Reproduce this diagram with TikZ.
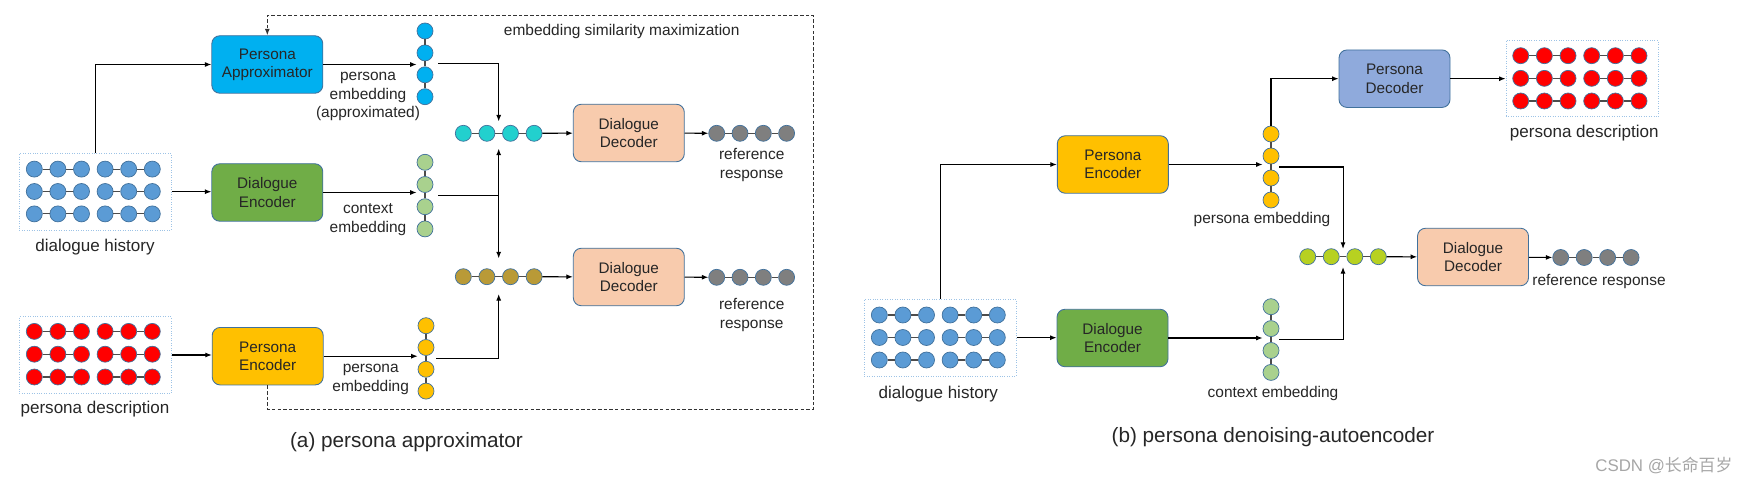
\documentclass[tikz,border=0pt]{standalone}
\usepackage{fontspec}
\setmainfont{Liberation Sans}
\newfontfamily\cjkfont{Noto Sans CJK SC}
\usetikzlibrary{positioning,calc,arrows.meta}

\definecolor{edgeblue}{HTML}{41719C}
\definecolor{gridline}{HTML}{9DC3E6}
\definecolor{cyanbox}{HTML}{00B0F0}
\definecolor{greenbox}{HTML}{70AD47}
\definecolor{yellowbox}{HTML}{FFC000}
\definecolor{peachbox}{HTML}{F8CBAD}
\definecolor{bluebox}{HTML}{8FAADC}
\definecolor{histblue}{HTML}{5B9BD5}
\definecolor{descred}{HTML}{FF0000}
\definecolor{ctxgreen}{HTML}{A9D18E}
\definecolor{mixteal}{HTML}{22D0CE}
\definecolor{mixolive}{HTML}{B99A37}
\definecolor{mixlime}{HTML}{B7D121}
\definecolor{respgrey}{HTML}{7F7F7F}

\tikzset{
    block/.style={draw=edgeblue, line width=0.5pt, rounded corners=1.6mm,
        minimum width=22.2mm, minimum height=11.5mm, align=center,
        font=\fontsize{8.7}{10.4}\selectfont, text=black!85},
    bead/.style={circle, draw=edgeblue, line width=0.4pt, minimum size=3.2mm, inner sep=0pt},
    link/.style={draw=black!70, line width=0.6pt},
    arr/.style={draw, line width=0.6pt, -{Latex[length=1.3mm,width=1mm]}},
    simloop/.style={draw=black!80, dashed, dash pattern=on 2pt off 1.2pt, line width=0.6pt,
        -{Latex[length=1.3mm,width=1mm]}},
    gridbox/.style={draw=gridline, densely dotted, line width=0.4pt,
        minimum width=30.4mm, minimum height=15.3mm, inner sep=0pt},
    lbl/.style={align=center, font=\fontsize{8.8}{10.6}\selectfont, text=black!85, inner sep=0pt},
    biglbl/.style={font=\fontsize{9.7}{11.6}\selectfont, text=black!85, inner sep=0pt},
    capt/.style={font=\fontsize{11.8}{14}\selectfont, text=black!85, inner sep=0pt},
}

\begin{document}
\begin{tikzpicture}[x=0.2mm, y=-0.2mm]
    \useasboundingbox (0,0) rectangle (1763,483);

    % ---------------- (a) persona approximator ----------------

    % dialogue history and persona description
    \node[gridbox] (hista) at (95.3,191.7) {};
    \node[gridbox] (desca) at (95.3,355) {};
    \foreach \r in {1,2,3} {
        \foreach \c in {1,...,6} {
            \node[bead, fill=histblue] (ha-\r-\c) at ({34.3+23.6*(\c-1)}, {169.1+22.4*(\r-1)}) {};
            \node[bead, fill=descred] (da-\r-\c) at ({34.3+23.6*(\c-1)}, {331.4+22.8*(\r-1)}) {};
        }
        \foreach \a/\b in {1/2,2/3,4/5,5/6} {
            \draw[link] (ha-\r-\a) -- (ha-\r-\b);
            \draw[link] (da-\r-\a) -- (da-\r-\b);
        }
    }
    \node[biglbl] (histalbl) at (95,247) {dialogue history};
    \node[biglbl] (descalbl) at (95,409.3) {persona description};

    % encoders
    \node[block, fill=cyanbox] (appr) at (267.3,64.5) {Persona\\Approximator};
    \node[block, fill=greenbox] (enca) at (267.3,192.5) {Dialogue\\Encoder};
    \node[block, fill=yellowbox] (encpa) at (267.7,356.2) {Persona\\Encoder};

    % embeddings
    \foreach \i in {1,...,4} {
        \node[bead, fill=cyanbox] (pa-\i) at (425, {31+21.9*(\i-1)}) {};
        \node[bead, fill=ctxgreen] (ca-\i) at (425, {162.3+22.2*(\i-1)}) {};
        \node[bead, fill=yellowbox] (ya-\i) at (426, {325.7+21.8*(\i-1)}) {};
    }
    \foreach \i/\j in {1/2,2/3,3/4} {
        \draw[link] (pa-\i) -- (pa-\j);
        \draw[link] (ca-\i) -- (ca-\j);
        \draw[link] (ya-\i) -- (ya-\j);
    }
    \node[lbl] (palbl) at (368,96.5) {persona\\embedding\\(approximated)};
    \node[lbl] (calbl) at (368,219.5) {context\\embedding};
    \node[lbl] (yalbl) at (370.7,379.7) {persona\\embedding};

    % merged embeddings, decoders, responses
    \foreach \i in {1,...,4} {
        \node[bead, fill=mixteal] (mxa-\i) at ({463.3+23.6*(\i-1)}, 133.3) {};
        \node[bead, fill=mixolive] (mxb-\i) at ({463.3+23.6*(\i-1)}, 276.7) {};
        \node[bead, fill=respgrey] (rra-\i) at ({716.7+23.3*(\i-1)}, 133.3) {};
        \node[bead, fill=respgrey] (rrb-\i) at ({716.7+23.3*(\i-1)}, 277.3) {};
    }
    \foreach \i/\j in {1/2,2/3,3/4} {
        \draw[link] (mxa-\i) -- (mxa-\j);
        \draw[link] (mxb-\i) -- (mxb-\j);
        \draw[link] (rra-\i) -- (rra-\j);
        \draw[link] (rrb-\i) -- (rrb-\j);
    }
    \node[block, fill=peachbox] (deca) at (628.8,133) {Dialogue\\Decoder};
    \node[block, fill=peachbox] (decb) at (628.8,277) {Dialogue\\Decoder};
    \node[lbl] (rralbl) at (751.7,165) {reference\\response};
    \node[lbl] (rrblbl) at (751.7,315.2) {reference\\response};

    % helper points
    \coordinate (pa-out) at ($(pa-2.east)!.5!(pa-3.east)+(5,0)$);
    \coordinate (ca-out) at ($(ca-2.east)!.5!(ca-3.east)+(5,0)$);
    \coordinate (ya-out) at ($(ya-2.east)!.5!(ya-3.east)+(2,0)$);
    \coordinate (mxa-top) at ($(mxa-2.north)!.5!(mxa-3.north)+(0,-3.5)$);
    \coordinate (mxa-bot) at ($(mxa-2.south)!.5!(mxa-3.south)+(0,7)$);
    \coordinate (mxb-top) at ($(mxb-2.north)!.5!(mxb-3.north)+(0,-10)$);
    \coordinate (mxb-bot) at ($(mxb-2.south)!.5!(mxb-3.south)+(0,9)$);
    \coordinate (loopbr) at (813.3,409.3);
    \coordinate (looptr) at (813.3,15.7);

    % connectors
    \draw[arr] (hista.north) |- (appr.west);
    \draw[arr] (hista.east) -- (hista.east -| enca.west);
    \draw[arr] (desca.east) -- (desca.east -| encpa.west);
    \draw[arr] (appr.east) -- (appr.east -| pa-2.west);
    \draw[arr] (enca.east) -- (enca.east -| ca-2.west);
    \draw[arr] (encpa.east) -- (encpa.east -| ya-2.west);
    \draw[arr] (pa-out) -| (mxa-top);
    \draw[arr] (ca-out) -| (mxa-bot);
    \draw[arr] (ca-out) -| (mxb-top);
    \draw[arr] (ya-out) -| (mxb-bot);
    \draw[arr] (mxa-4) -- (deca);
    \draw[arr] (mxb-4) -- (decb);
    \draw[arr] (deca) -- (rra-1);
    \draw[arr] (decb) -- (rrb-1);

    % similarity loop
    \draw[simloop] (encpa.south) |- (loopbr) -- (looptr) -| (appr.north);
    \node[lbl] (simlbl) at (621.7,31.7) {embedding similarity maximization};

    \node[capt] (capta) at (406.5,441.7) {(a) persona approximator};

    % ---------------- (b) persona denoising-autoencoder ----------------

    % dialogue history and persona description
    \node[gridbox] (histb) at (940.2,337.7) {};
    \node[gridbox] (descb) at (1581.9,78.5) {};
    \foreach \r in {1,2,3} {
        \foreach \c in {1,...,6} {
            \node[bead, fill=histblue] (hb-\r-\c) at ({879.3+23.6*(\c-1)}, {315+22.5*(\r-1)}) {};
            \node[bead, fill=descred] (db-\r-\c) at ({1520.7+23.66*(\c-1)}, {55.7+22.65*(\r-1)}) {};
        }
        \foreach \a/\b in {1/2,2/3,4/5,5/6} {
            \draw[link] (hb-\r-\a) -- (hb-\r-\b);
            \draw[link] (db-\r-\a) -- (db-\r-\b);
        }
    }
    \node[biglbl] (histblbl) at (938.3,394) {dialogue history};
    \node[biglbl] (descblbl) at (1584.3,132.7) {persona description};

    % encoders and decoders
    \node[block, fill=yellowbox] (encpb) at (1112.8,164.5) {Persona\\Encoder};
    \node[block, fill=greenbox] (encdb) at (1112.5,338) {Dialogue\\Encoder};
    \node[block, fill=bluebox] (decpb) at (1394.5,78.7) {Persona\\Decoder};
    \node[block, fill=peachbox] (decdb) at (1473,257) {Dialogue\\Decoder};

    % embeddings
    \foreach \i in {1,...,4} {
        \node[bead, fill=yellowbox] (yb-\i) at (1271, {134+22*(\i-1)}) {};
        \node[bead, fill=ctxgreen] (cb-\i) at (1271, {306.7+21.9*(\i-1)}) {};
        \node[bead, fill=mixlime] (mxc-\i) at ({1307.7+23.55*(\i-1)}, 256.7) {};
        \node[bead, fill=respgrey] (rrc-\i) at ({1560.7+23.45*(\i-1)}, 257.5) {};
    }
    \foreach \i/\j in {1/2,2/3,3/4} {
        \draw[link] (yb-\i) -- (yb-\j);
        \draw[link] (cb-\i) -- (cb-\j);
        \draw[link] (mxc-\i) -- (mxc-\j);
        \draw[link] (rrc-\i) -- (rrc-\j);
    }
    \node[lbl] (yblbl) at (1262,220) {persona embedding};
    \node[lbl] (cblbl) at (1273,393.3) {context embedding};
    \node[lbl] (rrclbl) at (1599,281.7) {reference response};

    % helper points
    \coordinate (yb-out) at ($(yb-2.east)!.5!(yb-3.east)$);
    \coordinate (cb-out) at ($(cb-2.east)!.5!(cb-3.east)$);
    \coordinate (mxc-top) at ($(mxc-2.north)!.5!(mxc-3.north)+(0,0.5)$);
    \coordinate (mxc-bot) at ($(mxc-2.south)!.5!(mxc-3.south)+(0,2)$);

    % connectors
    \draw[arr] (histb.north) |- (encpb.west);
    \draw[arr] (histb.east) -- (histb.east -| encdb.west);
    \draw[arr] (encpb.east) -- (encpb.east -| yb-2.west);
    \draw[arr] (encdb.east) -- (encdb.east -| cb-2.west);
    \draw[arr] (yb-1.north) |- (decpb.west);
    \draw[arr] (decpb.east) -- (decpb.east -| descb.west);
    \draw[arr] (yb-out) -| (mxc-top);
    \draw[arr] (cb-out) -| (mxc-bot);
    \draw[arr] (mxc-4) -- (decdb);
    \draw[arr] (decdb) -- (rrc-1);

    \node[capt] (captb) at (1273,436.7) {(b) persona denoising-autoencoder};

    % watermark
    \node[anchor=west, inner sep=0pt, text=black!35, font=\fontsize{9.6}{11}\selectfont] (mark) at (1595,465) {CSDN @{\cjkfont 长命百岁}};
\end{tikzpicture}
\end{document}
